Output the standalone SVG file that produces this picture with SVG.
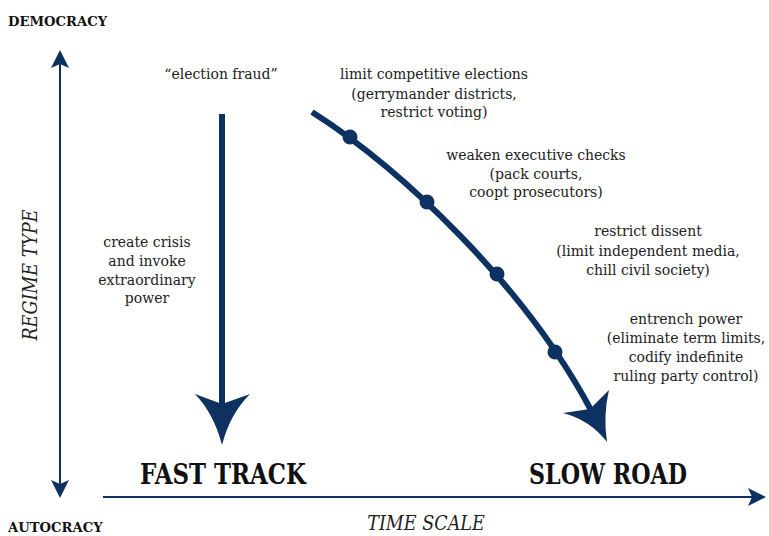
<svg xmlns="http://www.w3.org/2000/svg" width="769" height="536" viewBox="0 0 769 536">
<style>
.t{font-family:"DejaVu Serif","Liberation Serif",serif;font-size:14px;fill:#222;text-anchor:middle}
.b{font-family:"DejaVu Serif","Liberation Serif",serif;font-weight:bold;fill:#111}
.bc{font-family:"DejaVu Serif Condensed","DejaVu Serif","Liberation Serif",serif;font-weight:bold;fill:#111;font-size:27px;text-anchor:middle}
.i{font-family:"DejaVu Serif Condensed","DejaVu Serif","Liberation Serif",serif;font-style:italic;font-size:19.5px;fill:#222;text-anchor:middle}
.ax{stroke:#0d3160;stroke-width:2;fill:none}
.nv{fill:#0d3160}
</style>
<rect width="769" height="536" fill="#fff"/>
<g id="axes">
<line class="ax" x1="60" y1="60" x2="60" y2="490"/>
<path class="nv" d="M60,50 L69,68 L60,64 L51,68 Z"/>
<path class="nv" d="M60,498 L69,480 L60,484 L51,480 Z"/>
<line class="ax" x1="103" y1="497" x2="757" y2="497"/>
<path class="nv" d="M766,497 L748,488 L752,497 L748,506 Z"/>
</g>
<g id="labels">
<text class="b" x="8" y="26" font-size="13.2">DEMOCRACY</text>
<text class="b" x="8" y="532" font-size="13.2">AUTOCRACY</text>
<text class="i" x="426" y="530">TIME SCALE</text>
<text class="i" transform="translate(37,275) rotate(-90)">REGIME TYPE</text>
<text class="bc" x="223" y="484" textLength="166" lengthAdjust="spacingAndGlyphs">FAST TRACK</text>
<text class="bc" x="608" y="484" textLength="158" lengthAdjust="spacingAndGlyphs">SLOW ROAD</text>
</g>
<g id="fast-track">
<line x1="222" y1="114" x2="222" y2="405" stroke="#0d3160" stroke-width="6"/>
<path class="nv" d="M222,404 L195,394 Q214,414 222,445 Q230,414 250,394 Z"/>
<text class="t" x="221" y="79">“election fraud”</text>
<text class="t" x="147" y="247">create crisis</text>
<text class="t" x="147" y="266">and invoke</text>
<text class="t" x="147" y="285">extraordinary</text>
<text class="t" x="147" y="303">power</text>
</g>
<g id="slow-road">
<path d="M312,112 C400,168 525,285 592,412" stroke="#0d3160" stroke-width="6" fill="none"/>
<path class="nv" d="M590,409 L563,413 Q590,420 607,442 Q603,415 609,390 Z"/>
<circle class="nv" cx="350" cy="137" r="7.5"/>
<circle class="nv" cx="427" cy="202" r="7.5"/>
<circle class="nv" cx="497" cy="274" r="7.5"/>
<circle class="nv" cx="555" cy="352" r="7.5"/>
</g>
<g id="step1">
<text class="t" x="434" y="79">limit competitive elections</text>
<text class="t" x="434" y="99">(gerrymander districts,</text>
<text class="t" x="434" y="117">restrict voting)</text>
</g>
<g id="step2">
<text class="t" x="536" y="160">weaken executive checks</text>
<text class="t" x="536" y="179">(pack courts,</text>
<text class="t" x="536" y="197">coopt prosecutors)</text>
</g>
<g id="step3">
<text class="t" x="648" y="236">restrict dissent</text>
<text class="t" x="648" y="256">(limit independent media,</text>
<text class="t" x="648" y="275">chill civil society)</text>
</g>
<g id="step4">
<text class="t" x="686" y="324">entrench power</text>
<text class="t" x="686" y="343">(eliminate term limits,</text>
<text class="t" x="686" y="362">codify indefinite</text>
<text class="t" x="686" y="381">ruling party control)</text>
</g>
</svg>
